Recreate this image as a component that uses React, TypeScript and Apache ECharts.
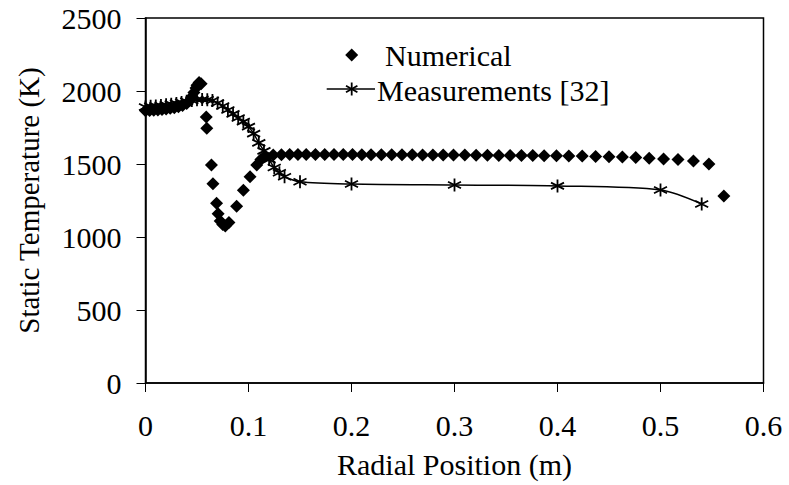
import React, { useEffect, useRef } from "react";
import * as echarts from "echarts";

const numX = [
  0.0, 0.004, 0.008, 0.012, 0.016, 0.02, 0.024, 0.028, 0.032, 0.036, 0.04, 0.043, 0.045, 0.047, 0.049, 0.05, 0.052, 0.054,
  0.059, 0.0595, 0.064, 0.0655, 0.069, 0.0705, 0.0725, 0.075, 0.0775, 0.081, 0.0885, 0.095, 0.1015, 0.108, 0.112,
  0.116, 0.124, 0.132, 0.14, 0.148, 0.156, 0.165, 0.174, 0.183, 0.192, 0.201, 0.21, 0.219, 0.229, 0.239, 0.249,
  0.259, 0.269, 0.279, 0.289, 0.299, 0.31, 0.321, 0.332, 0.343, 0.354, 0.365, 0.376, 0.387, 0.399, 0.411, 0.424,
  0.437, 0.45, 0.463, 0.476, 0.489, 0.503, 0.517, 0.532, 0.547, 0.5615,
];
const numY = [
  1865, 1866, 1868, 1870, 1873, 1877, 1881, 1886, 1892, 1900, 1915, 1935, 1960, 1990, 2020, 2040, 2058, 2050,
  1822, 1745, 1493, 1365, 1232, 1160, 1110, 1085, 1075, 1100, 1210, 1320, 1413, 1493, 1530,
  1555, 1562, 1564, 1565, 1565, 1565, 1565, 1565, 1565, 1565, 1565, 1564, 1564, 1564, 1563, 1563,
  1563, 1562, 1562, 1562, 1561, 1561, 1560, 1560, 1559, 1559, 1558, 1558, 1557, 1556, 1555, 1554,
  1552, 1550, 1548, 1545, 1540, 1535, 1530, 1520, 1500, 1281,
];

const measX = [
  0.0, 0.005, 0.01, 0.015, 0.02, 0.025, 0.03, 0.035, 0.04, 0.045, 0.05, 0.055, 0.06, 0.065, 0.07, 0.075, 0.08,
  0.085, 0.09, 0.095, 0.1, 0.105, 0.11, 0.115, 0.12, 0.125, 0.13, 0.135, 0.15, 0.2, 0.3, 0.4, 0.5, 0.54,
];
const measY = [
  1890, 1895, 1898, 1900, 1905, 1910, 1915, 1922, 1930, 1935, 1940, 1942, 1940, 1935, 1918, 1897, 1870,
  1843, 1815, 1790, 1756, 1708, 1645, 1590, 1530, 1476, 1440, 1413, 1378, 1363, 1356, 1350, 1322, 1226,
];

const seriesNames = ["Numerical", "Measurements [32]"];
const xTitle = "Radial Position (m)";
const yTitle = "Static Temperature (K)";

const FONT = "Liberation Serif";
const STAR = "path://M0,-10L0,10M-8.66,-5L8.66,5M-8.66,5L8.66,-5";

export default function App() {
  const ref = useRef<HTMLDivElement>(null);
  useEffect(() => {
    if (!ref.current) return;
    const chart = echarts.init(ref.current, null, { renderer: "svg" });
    const axisCommon = {
      axisLine: { show: true, lineStyle: { color: "#000", width: 1.5 } },
      axisTick: { show: true, inside: false, length: 9, lineStyle: { color: "#000", width: 1 } },
      splitLine: { show: false },
      nameTextStyle: { color: "#000", fontFamily: FONT, fontSize: 30 },
    };
    chart.setOption({
      animation: false,
      backgroundColor: "#fff",
      textStyle: { fontFamily: FONT },
      grid: {
        left: 145.5,
        right: 25.5,
        top: 18,
        bottom: 102,
        show: true,
        borderColor: "#000",
        borderWidth: 1.5,
        outerBoundsMode: "none",
        containLabel: false,
      },
      xAxis: {
        type: "value",
        min: 0,
        max: 0.6,
        interval: 0.1,
        name: xTitle,
        nameLocation: "middle",
        nameGap: 66,
        ...axisCommon,
        axisLabel: {
          color: "#000",
          fontFamily: FONT,
          fontSize: 30,
          margin: 27,
          formatter: (v: number) => String(Math.round(v * 10) / 10),
        },
      },
      yAxis: {
        type: "value",
        min: 0,
        max: 2500,
        interval: 500,
        name: yTitle,
        nameLocation: "middle",
        nameGap: 102,
        ...axisCommon,
        nameTextStyle: { color: "#000", fontFamily: FONT, fontSize: 29 },
        axisLabel: {
          color: "#000",
          fontFamily: FONT,
          fontSize: 30,
          margin: 24,
          formatter: (v: number) => String(v),
        },
      },
      series: [
        {
          name: seriesNames[0],
          type: "scatter",
          symbol: "diamond",
          symbolSize: 13,
          itemStyle: { color: "#000", opacity: 1 },
          data: numX.map((x, i) => [x, numY[i]]),
          z: 2,
        },
        {
          name: seriesNames[1],
          type: "line",
          smooth: 0.3,
          symbol: STAR,
          symbolSize: 13,
          showAllSymbol: true,
          lineStyle: { color: "#000", width: 1.5 },
          itemStyle: { color: "#000", borderColor: "#000", borderWidth: 1.8, opacity: 1 },
          data: measX.map((x, i) => [x, measY[i]]),
          z: 3,
        },
      ],
      graphic: [
        {
          type: "polygon",
          shape: { points: [[351.7, 48.5], [358.2, 55], [351.7, 61.5], [345.2, 55]] },
          style: { fill: "#000" },
        },
        {
          type: "text",
          x: 385,
          y: 55,
          style: { text: seriesNames[0], fill: "#000", fontFamily: FONT, fontSize: 30, verticalAlign: "middle", align: "left" },
        },
        {
          type: "line",
          shape: { x1: 326.7, y1: 89, x2: 375, y2: 89 },
          style: { stroke: "#000", lineWidth: 1.5 },
        },
        { type: "line", shape: { x1: 351.7, y1: 82.5, x2: 351.7, y2: 95.5 }, style: { stroke: "#000", lineWidth: 1.8 } },
        { type: "line", shape: { x1: 346, y1: 85.7, x2: 357.4, y2: 92.3 }, style: { stroke: "#000", lineWidth: 1.8 } },
        { type: "line", shape: { x1: 346, y1: 92.3, x2: 357.4, y2: 85.7 }, style: { stroke: "#000", lineWidth: 1.8 } },
        {
          type: "text",
          x: 377,
          y: 90,
          style: { text: seriesNames[1], fill: "#000", fontFamily: FONT, fontSize: 30, verticalAlign: "middle", align: "left" },
        },
      ],
    });
    return () => chart.dispose();
  }, []);
  return (
    <div
      ref={ref}
      style={{ position: "fixed", left: 0, top: 0, width: 789, height: 485, background: "#fff" }}
    />
  );
}
